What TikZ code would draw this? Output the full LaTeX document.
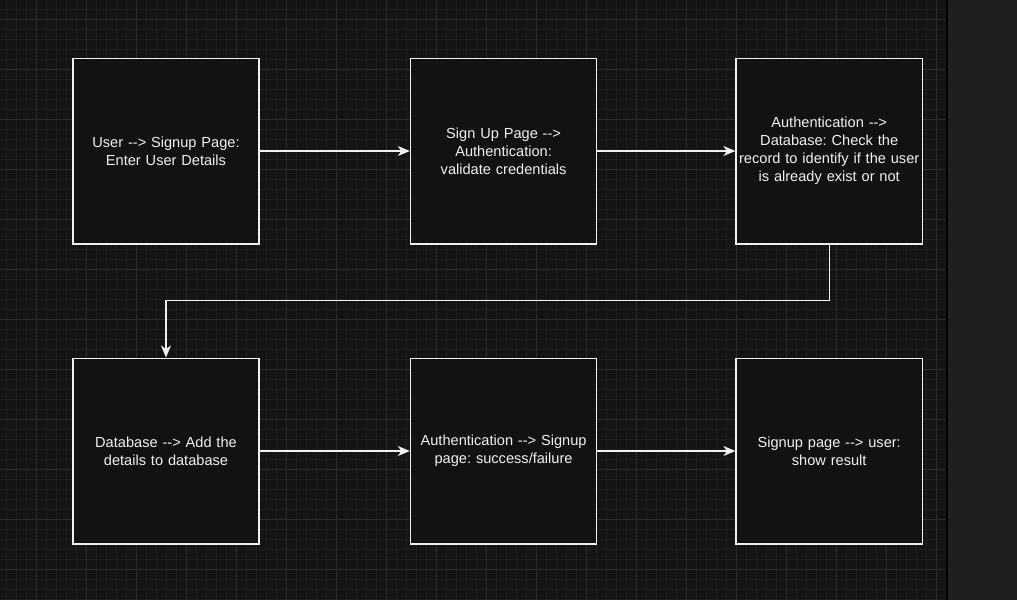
\documentclass[tikz,border=0pt]{standalone}
\usepackage{fontspec}
\setmainfont{Liberation Sans}[Ligatures=TeXOff]
\usetikzlibrary{positioning,arrows.meta}
\definecolor{canvas}{HTML}{141414}
\definecolor{boxfill}{HTML}{121212}
\definecolor{gridminor}{HTML}{1D1D1D}
\definecolor{gridmajor}{HTML}{2B2B2B}
\definecolor{panel}{HTML}{1E1F21}
\definecolor{ink}{HTML}{F0F0F0}
\tikzset{
  stepbox/.style={draw=ink,fill=boxfill,line width=1.4pt,minimum width=186.2pt,minimum height=185.6pt,
    text width=184pt,align=center,text=ink,inner sep=1pt,font=\fontsize{14.6}{18}\selectfont\frenchspacing},
  flow/.style={draw=ink,line width=1.3pt,-{Stealth[length=12pt,width=10pt,inset=3.5pt]}},
  minorgrid/.style={gridminor,line width=1pt},
  majorgrid/.style={gridmajor,line width=1pt}
}

\begin{document}
\begin{tikzpicture}[x=1pt,y=-1pt]
  \useasboundingbox (0,0) rectangle (1017,600);
  \fill[canvas] (0,0) rectangle (947,600);
  \fill[panel] (947,0) rectangle (1017,600);
  % grid
  \foreach \x in {6,16,...,946} \draw[minorgrid] (\x,0) -- (\x,600);
  \foreach \y in {9,19,...,599} \draw[minorgrid] (0,\y) -- (946,\y);
  \foreach \x in {36,86,...,936} \draw[majorgrid] (\x,0) -- (\x,600);
  \foreach \y in {19,69,...,569} \draw[majorgrid] (0,\y) -- (946,\y);
  \draw[black,line width=1.5pt] (947,0) -- (947,600);

  \node[stepbox] (user) at (166,151) {User {-}{-}> Signup Page:\\Enter User Details};
  \node[stepbox,right=150pt of user] (signup) {Sign Up Page {-}{-}>\\Authentication:\\validate credentials};
  \node[stepbox,right=138pt of signup] (auth) {Authentication {-}{-}>\\Database: Check the\\record to identify if the user\\is already exist or not};
  \node[stepbox,below=113pt of user] (db) {Database {-}{-}> Add the\\details to database};
  \node[stepbox,below=113pt of signup] (result) {Authentication {-}{-}> Signup\\page: success/failure};
  \node[stepbox,below=113pt of auth] (show) {Signup page {-}{-}> user:\\show result};

  \draw[flow] (user) -- (signup);
  \draw[flow] (signup) -- (auth);
  \draw[flow] (auth.south) -- ++(0,56) -| (db.north);
  \draw[flow] (db) -- (result);
  \draw[flow] (result) -- (show);
\end{tikzpicture}
\end{document}
